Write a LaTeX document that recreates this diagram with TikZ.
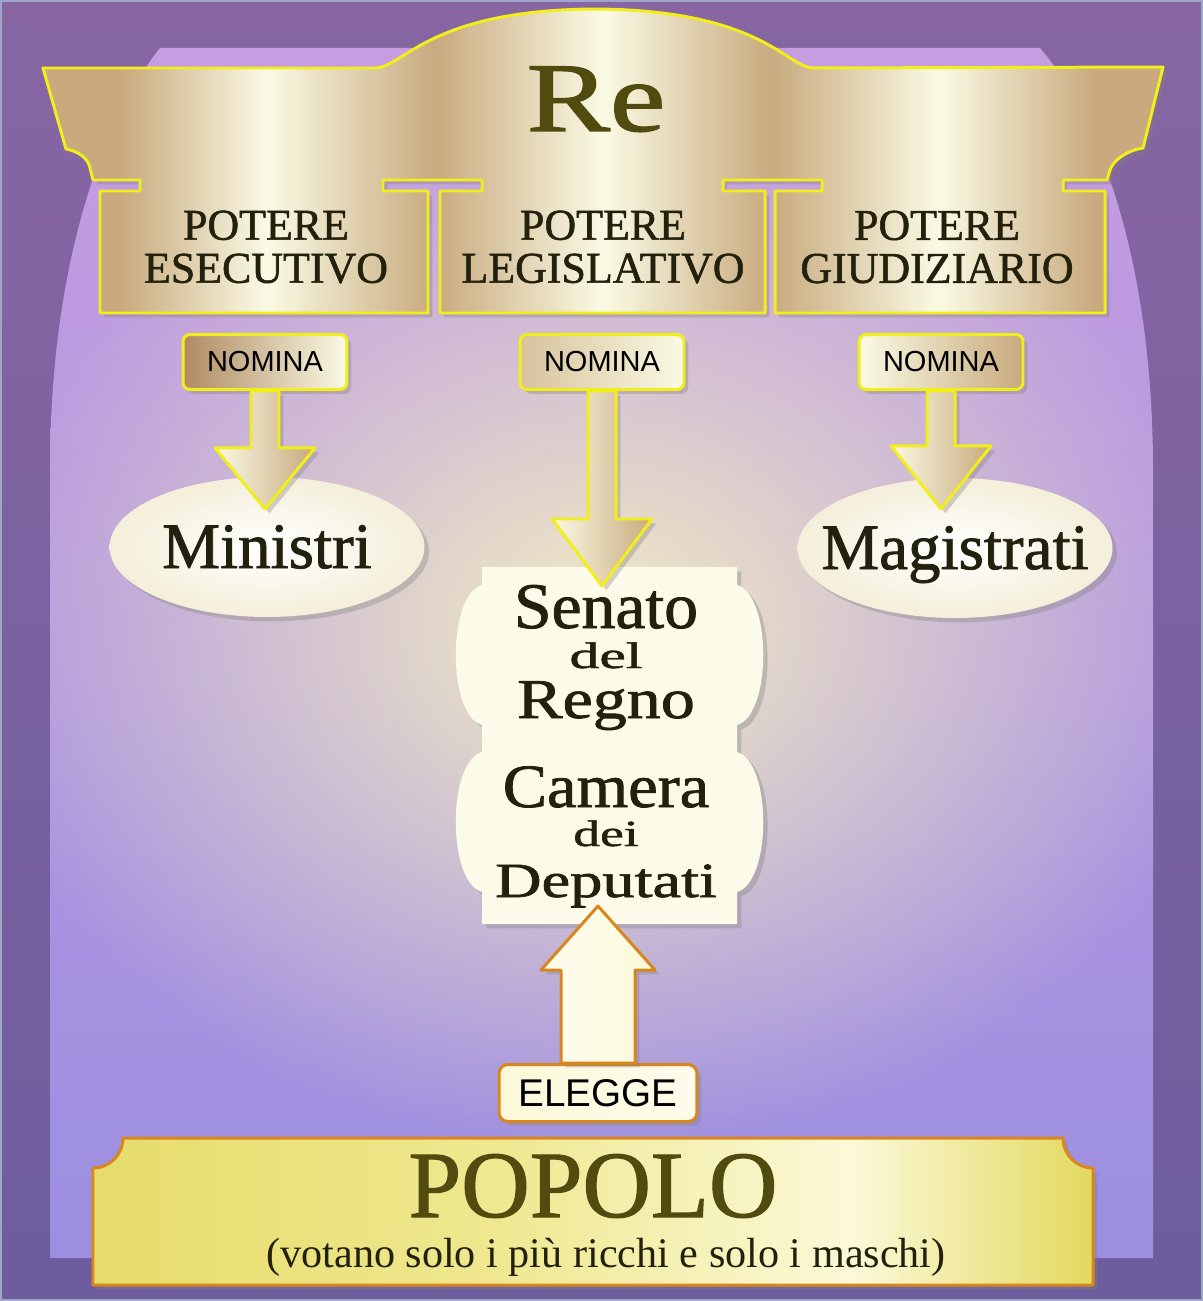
\documentclass[tikz,border=0pt]{standalone}
\usepackage{fontspec}
\setmainfont{Liberation Serif}
\newfontfamily\heavyserif[FakeBold=1.2]{Liberation Serif}
\newfontfamily\tagfont{Liberation Sans}
\usepackage{graphicx}
\usetikzlibrary{calc,shapes.geometric,shadows,fadings}

\definecolor{outertop}{HTML}{8766A2}
\definecolor{outerbot}{HTML}{6D5D9D}
\definecolor{archtop}{HTML}{C89EE0}
\definecolor{archmid}{HTML}{A994C0}
\definecolor{archbot}{HTML}{9A8EE0}
\definecolor{glowcol}{HTML}{F2ECC4}
\definecolor{goldtan}{HTML}{C8AA7E}
\definecolor{goldlite}{HTML}{FAFAE4}
\definecolor{nomtan}{HTML}{B08A62}
\definecolor{rimyellow}{HTML}{F2EE1A}
\definecolor{rimorange}{HTML}{D9861E}
\definecolor{popyellow}{HTML}{E6DC6A}
\definecolor{popmid}{HTML}{EFE890}
\definecolor{poplite}{HTML}{FBF9D8}
\definecolor{popright}{HTML}{E3D95E}
\definecolor{creamcol}{HTML}{FCFBEA}
\definecolor{inkcol}{HTML}{22210E}
\definecolor{olivecol}{HTML}{524B10}
\definecolor{framecol}{HTML}{9FA6C8}

\pgfdeclarehorizontalshading{goldband}{100bp}{color(0bp)=(goldtan); color(25bp)=(goldtan); color(28.5bp)=(goldtan); color(35bp)=(goldlite); color(42.5bp)=(goldtan); color(50bp)=(goldlite); color(57.5bp)=(goldtan); color(65bp)=(goldlite); color(72bp)=(goldtan); color(100bp)=(goldtan)}
\pgfdeclarehorizontalshading{popband}{100bp}{color(0bp)=(popyellow); color(25bp)=(popyellow); color(45bp)=(popmid); color(63bp)=(poplite); color(75bp)=(popright); color(100bp)=(popright)}
\tikzfading[name=glowfade, inner color=transparent!0, outer color=transparent!100]

\begin{document}
\begin{tikzpicture}[x=0.02cm, y=-0.02cm,
  goldrim/.style={draw=rimyellow, line width=1.7pt, line join=round},
  orangerim/.style={draw=rimorange, line width=1.7pt, line join=round},
  softshadow/.style={drop shadow={opacity=0.35, shadow xshift=2.5pt, shadow yshift=-2.5pt}},
  nombox/.style={goldrim, softshadow, rounded corners=4pt, minimum width=3.28cm, minimum height=1.1cm, inner sep=0pt, font=\tagfont\fontsize{16.5}{18}\selectfont, text=black},
  ovalbox/.style={ellipse, softshadow, inner color=white, outer color=creamcol!85!goldtan, minimum width=6.3cm, minimum height=2.8cm, inner sep=0pt, text height=24pt, text depth=0pt, text=inkcol, font=\heavyserif\fontsize{37}{40}\selectfont},
  pillartxt/.style={align=center, text=inkcol, font=\heavyserif\fontsize{25}{24.5}\selectfont},
  goldarrow/.style={goldrim, softshadow, left color=goldlite, right color=goldtan},
  creamarrow/.style={orangerim, softshadow, left color=white!60!poplite, right color=poplite}]
  \useasboundingbox (0,0) rectangle (1203,1301);

  % background
  \fill[top color=outertop, bottom color=outerbot] (0,0) rectangle (1203,1301);
  \begin{scope}
    \clip (50,1258) -- (50,470) .. controls (50,250) and (110,110) .. (160,48) -- (1040,48)
      .. controls (1093,110) and (1153,250) .. (1153,470) -- (1153,1258) -- cycle;
    \shade[top color=archtop, middle color=archmid, bottom color=archbot] (0,0) rectangle (1203,1301);
    \fill[glowcol, path fading=glowfade] (600,630) ellipse [x radius=640, y radius=520];
  \end{scope}
  \draw[framecol, line width=1.2pt] (1,1) rectangle (1202,1300);

  % king banner and pillars
  \shadedraw[goldrim, shading=goldband, softshadow] (43,68) -- (376,68)
    .. controls (405,66) and (430,10) .. (595,9) .. controls (760,10) and (785,66) .. (813,68)
    -- (1163,67) -- (1143,148) .. controls (1128,150) and (1113,160) .. (1110,170) -- (1107,180)
    -- (1063,180) -- (1063,191) -- (1105,191) -- (1105,313) -- (775,313) -- (775,191)
    -- (822,191) -- (822,180) -- (723,180) -- (723,191) -- (765,191) -- (765,313)
    -- (440,313) -- (440,191) -- (482,191) -- (482,180) -- (383,180) -- (383,191)
    -- (428,191) -- (428,313) -- (100,313) -- (100,191) -- (140,191) -- (140,180)
    -- (93,180) -- (90,168) .. controls (88,158) and (78,151) .. (66,149) -- cycle;

  \node[anchor=base, text=olivecol, font=\heavyserif\fontsize{56}{60}\selectfont] (re) at (596,131) {\scalebox{1.27}[1]{Re}};
  \node[pillartxt] (potE) at (266,247) {POTERE\\ESECUTIVO};
  \node[pillartxt] (potL) at (603,247) {POTERE\\LEGISLATIVO};
  \node[pillartxt] (potG) at (937,247) {POTERE\\GIUDIZIARIO};

  % ministri, magistrati, parlamento
  \node[ovalbox] (min) at (267,547) {\makebox[0pt]{Ministri}};
  \node[ovalbox] (mag) at (955,548) {\makebox[0pt]{Magistrati}};

  \path[fill=creamcol, softshadow] (482,567) -- (737,567) -- (737,585)
    .. controls (772,595) and (772,715) .. (737,725) -- (737,752)
    .. controls (772,762) and (772,882) .. (737,892) -- (737,924) -- (482,924) -- (482,892)
    .. controls (447,882) and (447,762) .. (482,752) -- (482,725)
    .. controls (447,715) and (447,595) .. (482,585) -- cycle;
  \foreach \txt/\yb/\sz/\xs [count=\i] in {Senato/628/37/1.04, del/668/21/1.62, Regno/718/32/1.21, Camera/807/35/1.08, dei/846/21/1.45, Deputati/897/28/1.31}
    \node[anchor=base, inner sep=0pt, text=inkcol, font=\heavyserif\fontsize{\sz}{\sz}\selectfont] (parl\i) at (606,\yb) {\scalebox{\xs}[1]{\txt}};

  % nomina
  \node[nombox, left color=nomtan, right color=goldlite] (nomE) at (265,362) {NOMINA};
  \node[nombox, left color=goldtan!70!goldlite, right color=goldlite] (nomL) at (602,362) {NOMINA};
  \node[nombox, left color=goldlite, right color=goldtan] (nomG) at (941,362) {NOMINA};
  \foreach \nm/\len/\hl in {nomE/57/61, nomL/128/67, nomG/55/63}
    \draw[goldarrow] ($(\nm.south)+(-14,0)$) -- ++(0,\len) -- ++(-36,0) -- ++(50,\hl)
      -- ++(50,-\hl) -- ++(-36,0) -- ++(0,-\len) -- cycle;

  % popolo
  \shadedraw[orangerim, shading=popband, softshadow] (123,1138) -- (1063,1138)
    .. controls (1063,1154.6) and (1076.4,1168) .. (1093,1168) -- (1093,1285) -- (93,1285)
    -- (93,1168) .. controls (109.6,1168) and (123,1154.6) .. (123,1138) -- cycle;
  \node[anchor=base, text=olivecol, font=\heavyserif\fontsize{54}{58}\selectfont] (popolo) at (593,1217) {POPOLO};
  \node[anchor=base, text=inkcol, font=\fontsize{24}{26}\selectfont] (popsub) at (606,1267) {(votano solo i più ricchi e solo i maschi)};

  \node[orangerim, softshadow, rounded corners=5pt, left color=poplite, right color=white!50!poplite,
    minimum width=3.96cm, minimum height=1.14cm, inner sep=0pt, text=black,
    font=\tagfont\fontsize{22}{24}\selectfont] (elegge) at (598,1093) {ELEGGE};
  \draw[creamarrow] ($(elegge.north)+(-37,0)$) -- ++(0,-93) -- ++(-20,0) -- ++(57,-64)
    -- ++(57,64) -- ++(-20,0) -- ++(0,93) -- cycle;
\end{tikzpicture}
\end{document}
